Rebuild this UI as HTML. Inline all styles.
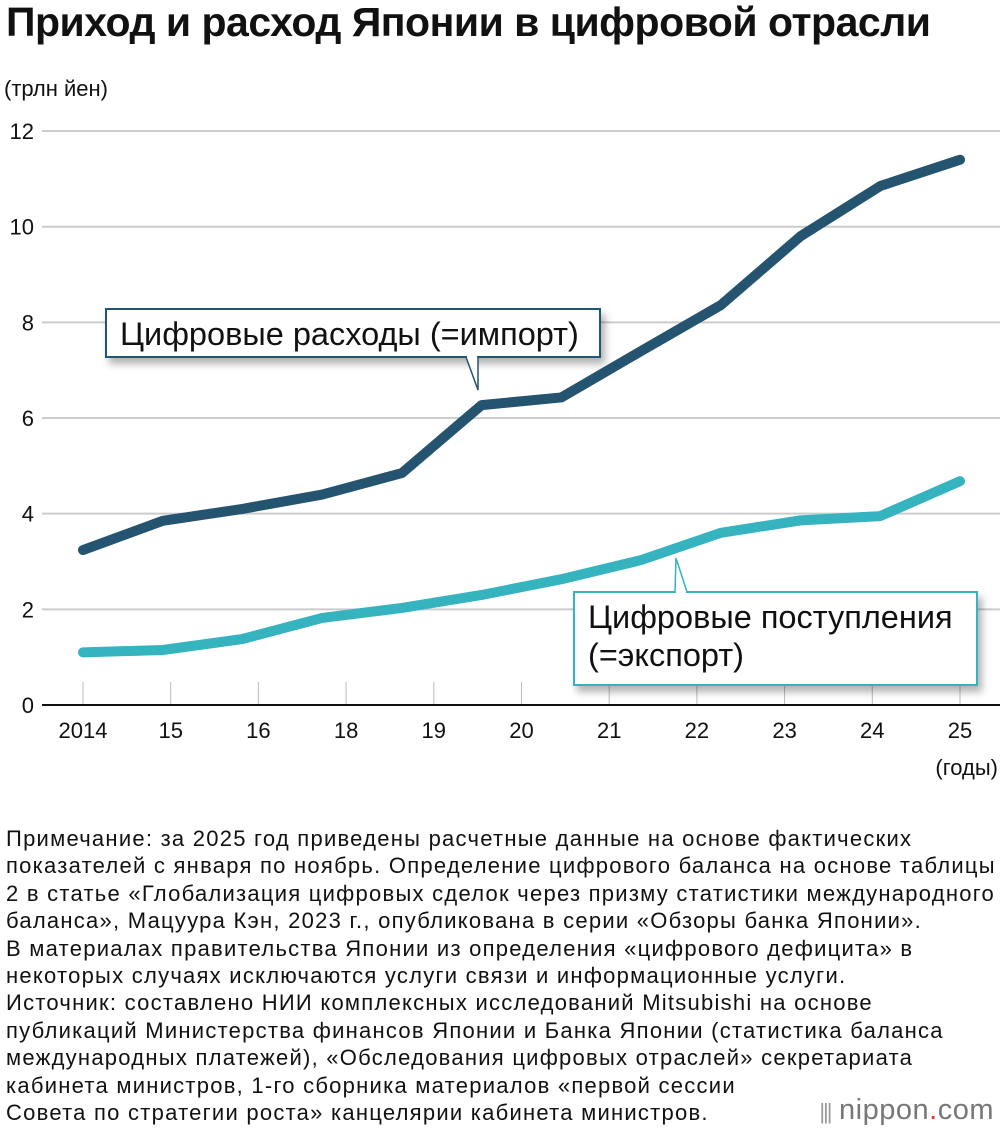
<!DOCTYPE html>
<html><head><meta charset="utf-8">
<style>
body{margin:0;width:1000px;height:1136px;background:#fff;font-family:"Liberation Sans",sans-serif;overflow:hidden;position:relative}
#title{position:absolute;left:6px;top:-1px;font-size:41px;font-weight:bold;color:#111;letter-spacing:-0.5px;white-space:nowrap}
#unit{position:absolute;left:4px;top:76px;font-size:22px;color:#111}
#note{position:absolute;left:6px;top:825px;font-size:22px;letter-spacing:1.25px;line-height:27.4px;color:#111;white-space:nowrap}
#logo{position:absolute;right:6px;top:1094px;font-size:29px;color:#777;letter-spacing:0.5px}
</style></head><body>
<div id="title">Приход и расход Японии в цифровой отрасли</div>
<div id="unit">(трлн йен)</div>
<svg id="chart" width="1000" height="800" style="position:absolute;left:0;top:0"></svg>
<div id="note">Примечание: за 2025 год приведены расчетные данные на основе фактических<br>показателей с января по ноябрь. Определение цифрового баланса на основе таблицы<br>2 в статье «Глобализация цифровых сделок через призму статистики международного<br>баланса», Мацуура Кэн, 2023 г., опубликована в серии «Обзоры банка Японии».<br>В материалах правительства Японии из определения «цифрового дефицита» в<br>некоторых случаях исключаются услуги связи и информационные услуги.<br>Источник: составлено НИИ комплексных исследований Mitsubishi на основе<br>публикаций Министерства финансов Японии и Банка Японии (статистика баланса<br>международных платежей), «Обследования цифровых отраслей» секретариата<br>кабинета министров, 1-го сборника материалов «первой сессии<br>Совета по стратегии роста» канцелярии кабинета министров.</div>
<div id="logo"><span style="font-size:22px;letter-spacing:-2px;color:#999">|||</span> nippon<span style="color:#e33">.</span>com</div>
<script>
const tickLabels=["2014","15","16","18","19","20","21","22","23","24","25"];
const yTicks=[0,2,4,6,8,10,12];
const importVals=[3.24,3.85,4.1,4.4,4.85,6.27,6.43,7.4,8.36,9.8,10.85,11.4];
const exportVals=[1.1,1.15,1.38,1.82,2.03,2.3,2.63,3.03,3.6,3.86,3.95,4.68];
const svg=document.getElementById('chart');const NS='http://www.w3.org/2000/svg';
function y(v){return 705-v*47.83;}
function xt(i){return 83+i*(960-83)/(tickLabels.length-1);}
function xp(i,n){return 83+i*(960-83)/(n-1);}
function mk(t,a,p){const e=document.createElementNS(NS,t);for(const k in a)e.setAttribute(k,a[k]);(p||svg).appendChild(e);return e;}
yTicks.forEach(v=>{
 const g=mk('line',{x1:42,x2:1000,y1:y(v),y2:y(v),stroke:v===0?'#111':'#ccc','stroke-width':2});
 
 
 const t=mk('text',{x:34,y:y(v)+8,'text-anchor':'end','font-size':22,fill:'#111'});t.textContent=v;
 
 
});
tickLabels.forEach((l,i)=>{
 const tk=mk('line',{x1:xt(i),x2:xt(i),y1:682,y2:704,stroke:'#bbb','stroke-width':1});
 
 
 const t=mk('text',{x:xt(i),y:738,'text-anchor':'middle','font-size':22,fill:'#111'});t.textContent=l;
 
 
});
const yu=mk('text',{x:998,y:775,'text-anchor':'end','font-size':22,fill:'#111'});yu.textContent='(годы)';


function line(vals,color,name){
 const p=mk('polyline',{points:vals.map((v,i)=>xp(i,vals.length)+','+y(v)).join(' '),fill:'none',stroke:color,'stroke-width':10,'stroke-linecap':'round','stroke-linejoin':'round'});
 
 
}
line(exportVals,'#35b3be','export-line');
line(importVals,'#24546f','import-line');
const defs=mk('defs',{});
const f=mk('filter',{id:'sh',x:'-10%',y:'-20%',width:'130%',height:'160%'},defs);
mk('feDropShadow',{dx:4,dy:6,stdDeviation:4,'flood-color':'#000','flood-opacity':0.3},f);
function box(x,yy,w,h,px,tipx,tipy,color,lines,name){
 const g=mk('g',{});
 
 
 mk('rect',{x:x,y:yy,width:w,height:h,fill:'#fff',stroke:color,'stroke-width':2,filter:'url(#sh)'},g);
 const by=tipy>yy?yy+h:yy;
 mk('path',{d:`M${px-6},${by} L${tipx},${tipy} L${px+6},${by}`,fill:'#fff',stroke:color,'stroke-width':1.5},g);
 mk('line',{x1:px-5,x2:px+5,y1:by,y2:by,stroke:'#fff','stroke-width':3},g);
 lines.forEach((s,i)=>{const t=mk('text',{x:x+14,y:yy+36+i*38,'font-size':32.5,fill:'#111'},g);t.textContent=s;});
}
box(106,309,494,48,472,478,390,'#24546f',['Цифровые расходы (=импорт)'],'import-label');
box(574,592,403,93,681,676,558,'#35b3be',['Цифровые поступления','(=экспорт)'],'export-label');
</script>
</body></html>
